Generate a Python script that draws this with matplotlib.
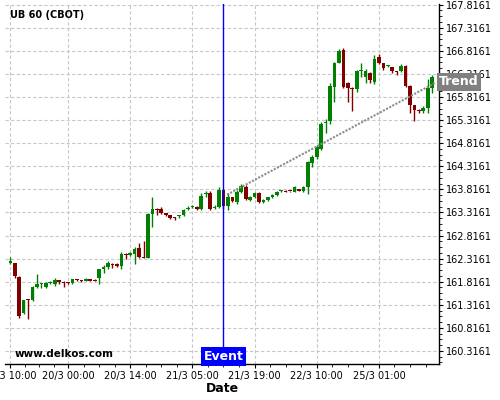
import matplotlib
matplotlib.use("Agg")
import matplotlib.pyplot as plt
import numpy as np

# ---------------- data ----------------
opens = [162.21, 162.21, 161.91, 161.13, 161.43, 161.42, 161.70, 161.76, 161.71, 161.78,
         161.77, 161.84, 161.82, 161.80, 161.78, 161.87, 161.85, 161.84, 161.87, 161.86,
         161.89, 162.09, 162.13, 162.20, 162.20, 162.15, 162.41, 162.39, 162.42, 162.55,
         162.35, 162.33, 163.29, 163.39, 163.39, 163.30, 163.25, 163.20, 163.24, 163.25,
         163.39, 163.43, 163.43, 163.39, 163.71, 163.74, 163.42, 163.44, 163.81, 163.46,
         163.64, 163.54, 163.76, 163.87, 163.59, 163.66, 163.74, 163.54, 163.59, 163.64,
         163.69, 163.77, 163.79, 163.78, 163.76, 163.82, 163.77, 163.87, 164.39, 164.52,
         164.70, 165.25, 165.30, 166.03, 166.56, 166.83, 166.13, 166.02, 166.00, 166.39,
         166.26, 166.34, 166.15, 166.69, 166.55, 166.48, 166.46, 166.37, 166.37, 166.49,
         166.06, 165.64, 165.52, 165.51, 165.57, 166.01]
highs = [162.34, 162.22, 161.95, 161.43, 161.44, 161.72, 161.98, 161.79, 161.80, 161.84,
         161.90, 161.85, 161.83, 161.81, 161.88, 161.88, 161.86, 161.90, 161.88, 161.87,
         162.10, 162.17, 162.26, 162.21, 162.22, 162.45, 162.44, 162.45, 162.56, 162.66,
         162.70, 163.30, 163.66, 163.42, 163.43, 163.31, 163.26, 163.22, 163.27, 163.38,
         163.45, 163.47, 163.46, 163.74, 163.79, 163.77, 163.47, 163.86, 163.83, 163.73,
         163.66, 163.80, 163.94, 163.90, 163.68, 163.75, 163.75, 163.61, 163.66, 163.72,
         163.79, 163.81, 163.80, 163.79, 163.88, 163.83, 163.88, 164.43, 164.55, 164.77,
         165.27, 165.34, 166.13, 166.58, 166.85, 166.87, 166.14, 166.03, 166.40, 166.56,
         166.42, 166.36, 166.72, 166.75, 166.56, 166.51, 166.47, 166.39, 166.53, 166.51,
         166.07, 165.65, 165.55, 165.62, 166.20, 166.29]
lows = [162.20, 161.90, 161.04, 161.11, 161.00, 161.40, 161.69, 161.68, 161.69, 161.76,
        161.73, 161.76, 161.71, 161.77, 161.76, 161.84, 161.82, 161.83, 161.83, 161.83,
        161.77, 162.01, 162.10, 162.12, 162.13, 162.10, 162.30, 162.37, 162.20, 162.32,
        162.32, 162.32, 163.01, 163.25, 163.28, 163.23, 163.17, 163.16, 163.19, 163.24,
        163.37, 163.42, 163.36, 163.37, 163.66, 163.37, 163.38, 163.42, 163.38, 163.37,
        163.54, 163.50, 163.74, 163.58, 163.57, 163.63, 163.52, 163.52, 163.57, 163.62,
        163.67, 163.75, 163.75, 163.76, 163.75, 163.77, 163.76, 163.72, 164.29, 164.48,
        164.67, 165.03, 165.24, 165.71, 166.55, 166.01, 165.71, 165.52, 165.92, 166.25,
        166.11, 166.11, 166.09, 166.53, 166.40, 166.46, 166.34, 166.29, 166.36, 166.03,
        165.46, 165.29, 165.46, 165.46, 165.48, 165.90]
closes = [162.26, 161.93, 161.08, 161.42, 161.41, 161.70, 161.76, 161.77, 161.78, 161.80,
          161.85, 161.82, 161.78, 161.78, 161.87, 161.85, 161.83, 161.88, 161.84, 161.84,
          162.09, 162.13, 162.22, 162.18, 162.16, 162.41, 162.39, 162.43, 162.53, 162.34,
          162.33, 163.29, 163.39, 163.37, 163.30, 163.25, 163.19, 163.19, 163.26, 163.37,
          163.42, 163.45, 163.39, 163.68, 163.73, 163.40, 163.44, 163.81, 163.45, 163.64,
          163.56, 163.76, 163.88, 163.61, 163.66, 163.73, 163.54, 163.59, 163.64, 163.69,
          163.76, 163.79, 163.76, 163.77, 163.87, 163.78, 163.87, 164.41, 164.52, 164.74,
          165.23, 165.27, 166.06, 166.56, 166.82, 166.03, 166.01, 166.00, 166.37, 166.41,
          166.37, 166.19, 166.64, 166.55, 166.44, 166.49, 166.37, 166.36, 166.49, 166.06,
          165.64, 165.53, 165.51, 165.57, 166.01, 166.26]

x_tick_pos = [0, 13, 27, 41, 55, 69, 83]
x_tick_labels = ["19/3 10:00", "20/3 00:00", "20/3 14:00", "21/3 05:00",
                 "21/3 19:00", "22/3 10:00", "25/3 01:00"]
y_ticks = [160.3161, 160.8161, 161.3161, 161.8161, 162.3161, 162.8161, 163.3161,
           163.8161, 164.3161, 164.8161, 165.3161, 165.8161, 166.3161, 166.8161, 167.3161,
           167.8161]
event_x = 48
trend_x = [48.8, 95.6]
trend_y = [163.70, 166.12]
trend_label_y = 166.15

title = "UB 60 (CBOT)"
watermark = "www.delkos.com"

# ---------------- figure ----------------
fig = plt.figure(figsize=(5, 4), dpi=100)
ax = fig.add_axes([0.010, 0.0893, 0.8686, 0.9007])

GREEN = "#008000"
RED = "#800000"

o = np.array(opens); h = np.array(highs); l = np.array(lows); c = np.array(closes)
idx = np.arange(len(o))
cols = [GREEN if cc >= oo else RED for oo, cc in zip(o, c)]
bottoms = np.minimum(o, c)
heights = np.maximum(np.abs(c - o), 0.022)

ax.vlines(idx, l, h, colors=cols, linewidth=1.0, zorder=3)
ax.bar(idx, heights, bottom=bottoms, width=0.82, color=cols, linewidth=0, zorder=4)

# trend line
ax.plot(trend_x, trend_y, color="#8c8c8c", linewidth=1.5, dashes=(1, 0.7), zorder=5)

# event line
ax.axvline(event_x, color="#0000ff", linewidth=1.0, zorder=6)
ax.text(event_x, 0.022, "Event", transform=ax.get_xaxis_transform(), ha="center", va="center",
        color="white", fontsize=9, fontweight="bold", zorder=7,
        bbox=dict(boxstyle="square,pad=0.22", fc="#0000ff", ec="none"))

ax.set_xlim(-1.2, 96.6)
ax.set_ylim(160.027, 167.831)

# axes styling
for s in ("left", "top"):
    ax.spines[s].set_visible(False)
ax.spines["right"].set_linewidth(1.0)
ax.spines["bottom"].set_linewidth(1.0)

ax.yaxis.tick_right()
ax.set_yticks(y_ticks)
ax.set_yticklabels([f"{v:.4f}" for v in y_ticks])
minor_y = [v + k * 0.125 for v in [y_ticks[0] - 0.5] + y_ticks for k in (1, 2, 3)]
ax.set_yticks([m for m in minor_y if 160.03 < m < 167.83], minor=True)

ax.set_xticks(x_tick_pos)
ax.set_xticklabels(x_tick_labels)
mx = []
for a, b in zip(x_tick_pos[:-1], x_tick_pos[1:]):
    mx += [a + (b - a) * k / 4 for k in (1, 2, 3)]
mx += [x_tick_pos[-1] + 3.5 * k for k in (1, 2, 3)]
ax.set_xticks(mx, minor=True)

ax.tick_params(axis="both", which="major", labelsize=7, length=3, width=0.8, pad=1.5)
ax.tick_params(axis="both", which="minor", length=2, width=0.6)
ax.grid(True, which="major", color="#c8c8c8", linestyle=(0, (3, 2)), linewidth=0.8)
ax.set_axisbelow(True)

ax.set_xlabel("Date", fontsize=9, fontweight="bold")
ax.xaxis.set_label_coords(0.5, -0.05)

# trend label
ax.text(1.0, trend_label_y, "Trend", transform=ax.get_yaxis_transform(), ha="left", va="center",
        color="white", fontsize=9, fontweight="bold", zorder=10, clip_on=False,
        bbox=dict(boxstyle="square,pad=0.2", fc="#808080", ec="none"))

fig.text(0.02, 0.9625, title, fontsize=7, fontweight="bold", ha="left", va="center")
fig.text(0.03, 0.115, watermark, fontsize=7.5, fontweight="bold", ha="left", va="center")

fig.savefig("out.png", dpi=100)
